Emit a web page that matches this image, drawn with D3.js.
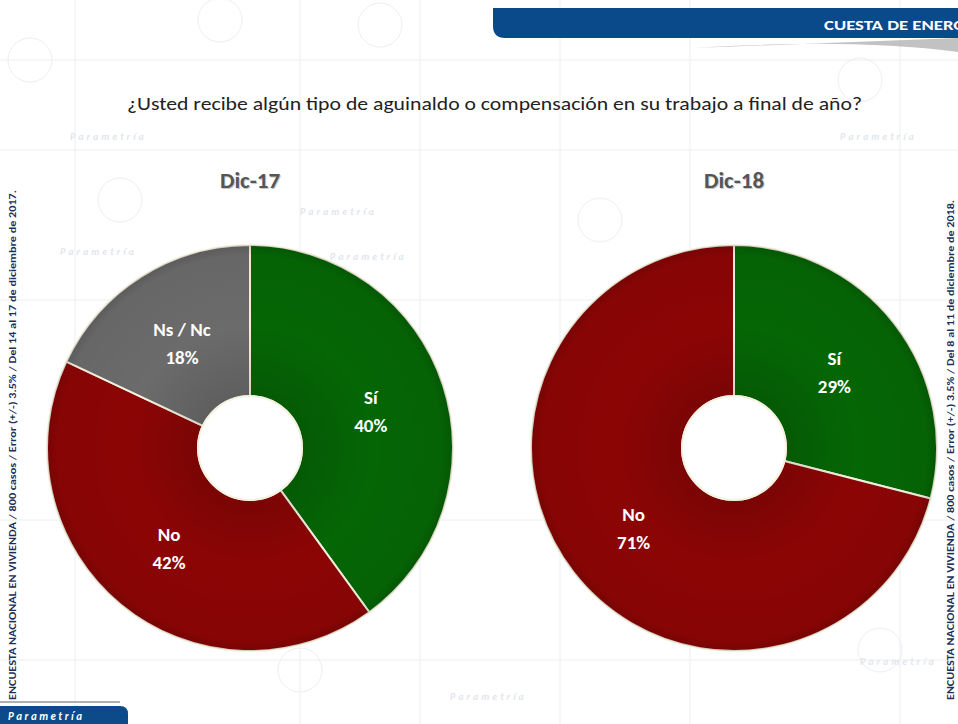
<!DOCTYPE html>
<html>
<head>
<meta charset="utf-8">
<script src="https://cdn.jsdelivr.net/npm/d3@7"></script>
<style>
  body { margin: 0; background: #fff; }
  svg { display: block; }
</style>
</head>
<body>
<div id="chart"></div>
<script>
var W = 958, H = 724;

// data
var years = ["Dic-17", "Dic-18"];
var cats17 = ["Sí", "No", "Ns / Nc"];
var vals17 = [40, 42, 18];
var cats18 = ["Sí", "No"];
var vals18 = [29, 71];
var catColors = {"Sí": "#056605", "No": "#8c0505", "Ns / Nc": "#6b6b6b"};

var title = "¿Usted recibe algún tipo de aguinaldo o compensación en su trabajo a final de año?";
var note17 = "ENCUESTA NACIONAL EN VIVIENDA / 800 casos / Error (+/-) 3.5% / Del 14 al 17 de diciembre de 2017.";
var note18 = "ENCUESTA NACIONAL EN VIVIENDA / 800 casos / Error (+/-) 3.5% / Del 8 al 11 de diciembre de 2018.";

var font = "Carlito, 'Liberation Sans Narrow', 'Open Sans', sans-serif";

var svg = d3.select("#chart").append("svg")
  .attr("width", W)
  .attr("height", H)
  .style("font-family", font);

// faint watermark background
var wm = svg.append("g").attr("stroke", "#eceef2").attr("fill", "none").attr("stroke-width", 1);
[75, 300, 420, 560, 690, 900].forEach(function(x) {
  wm.append("line").attr("x1", x).attr("x2", x).attr("y1", 0).attr("y2", H);
});
[60, 150, 300, 520, 660].forEach(function(y) {
  wm.append("line").attr("x1", 0).attr("x2", W).attr("y1", y).attr("y2", y);
});
[[30, 60], [220, 20], [380, 25], [860, 80], [600, 220], [880, 650], [300, 670], [120, 200]].forEach(function(p) {
  wm.append("circle").attr("cx", p[0]).attr("cy", p[1]).attr("r", 22);
});
[[70, 140], [330, 260], [840, 140], [300, 215], [860, 665], [450, 700], [60, 255]].forEach(function(p) {
  svg.append("text").attr("x", p[0]).attr("y", p[1])
    .attr("fill", "#e2e6ec").attr("font-size", 10).attr("font-style", "italic")
    .attr("font-weight", "bold").attr("letter-spacing", 3)
    .text("Parametría");
});

// top banner
var bx = 493, by = 8, bh = 30, br = 12;
svg.append("path")
  .attr("d", "M" + (bx + 200) + "," + (by + bh + 10) + " Q" + 850 + "," + (by + bh) + " " + W + "," + (by + bh + 14) + " L" + W + "," + (by + bh) + " Z")
  .attr("fill", "#9a9a9a").attr("opacity", 0.6);
svg.append("path")
  .attr("d", "M" + bx + "," + by + " H" + W + " V" + (by + bh) + " H" + (bx + br) +
    " Q" + bx + "," + (by + bh) + " " + bx + "," + (by + bh - br) + " Z")
  .attr("fill", "#0b4a8a");
svg.append("text")
  .attr("x", 824).attr("y", 30)
  .attr("fill", "#fff").attr("font-weight", "bold").attr("font-size", 14)
  .attr("textLength", 142).attr("lengthAdjust", "spacingAndGlyphs")
  .text("CUESTA  DE ENERO");

// title
svg.append("text")
  .attr("x", 127).attr("y", 110)
  .attr("fill", "#222").attr("font-size", 19)
  .attr("textLength", 735).attr("lengthAdjust", "spacingAndGlyphs")
  .text(title);

// side notes
svg.append("text")
  .attr("transform", "translate(16,700) rotate(-90)")
  .attr("fill", "#1a2f5a").attr("font-size", 9).attr("font-weight", "bold")
  .attr("textLength", 510).attr("lengthAdjust", "spacingAndGlyphs")
  .text(note17);
svg.append("text")
  .attr("transform", "translate(954,700) rotate(-90)")
  .attr("fill", "#1a2f5a").attr("font-size", 9).attr("font-weight", "bold")
  .attr("textLength", 500).attr("lengthAdjust", "spacingAndGlyphs")
  .text(note18);

// bottom-left tab
svg.append("line").attr("x1", 0).attr("x2", 120).attr("y1", 702).attr("y2", 702)
  .attr("stroke", "#b0b0b0").attr("stroke-width", 2);
svg.append("path")
  .attr("d", "M0,706 H120 Q128,706 128,714 V" + H + " H0 Z")
  .attr("fill", "#0d4a8a");
svg.append("text")
  .attr("x", 8).attr("y", 720)
  .attr("fill", "#fff").attr("font-size", 11).attr("font-weight", "bold")
  .attr("font-style", "italic").attr("letter-spacing", 2.5)
  .text("Parametría");

// donuts
var defs = svg.append("defs");
var shade = defs.append("radialGradient").attr("id", "shade")
  .attr("gradientUnits", "userSpaceOnUse").attr("cx", 0).attr("cy", 0).attr("r", 203);
shade.append("stop").attr("offset", "0.25").attr("stop-color", "#000").attr("stop-opacity", 0.12);
shade.append("stop").attr("offset", "0.6").attr("stop-color", "#000").attr("stop-opacity", 0);
shade.append("stop").attr("offset", "0.95").attr("stop-color", "#000").attr("stop-opacity", 0.04);
shade.append("stop").attr("offset", "1").attr("stop-color", "#000").attr("stop-opacity", 0.15);

var outerR = 203, innerR = 52;
var centers = d3.scalePoint().domain(years).range([250, 734]);
var cy = 448;

var pie = d3.pie().sort(null).value(function(d) { return d.value; });
var arc = d3.arc().innerRadius(innerR).outerRadius(outerR);
var labelArc = d3.arc().innerRadius(127).outerRadius(127);

var datasets = [
  cats17.map(function(c, i) { return {cat: c, value: vals17[i]}; }),
  cats18.map(function(c, i) { return {cat: c, value: vals18[i]}; })
];

years.forEach(function(yr, k) {
  var cx = centers(yr);

  svg.append("text")
    .attr("x", cx + 1).attr("y", 189)
    .attr("text-anchor", "middle").attr("font-size", 23).attr("font-weight", "bold")
    .attr("fill", "#c8c8c8").text(yr);
  svg.append("text")
    .attr("x", cx).attr("y", 188)
    .attr("text-anchor", "middle").attr("font-size", 23).attr("font-weight", "bold")
    .attr("fill", "#555").text(yr);

  var g = svg.append("g").attr("transform", "translate(" + cx + "," + cy + ")");
  var arcs = pie(datasets[k]);

  g.selectAll("path.slice")
    .data(arcs)
    .enter()
    .append("path")
    .attr("class", "slice")
    .attr("d", arc)
    .attr("fill", function(d) { return catColors[d.data.cat]; })
    .attr("stroke", "#f4f1e0")
    .attr("stroke-width", 2);

  g.append("circle").attr("r", outerR).attr("fill", "url(#shade)").attr("pointer-events", "none");
  g.append("circle").attr("r", innerR).attr("fill", "#fff")
    .attr("stroke", "#f4f1e0").attr("stroke-width", 2);

  var lab = g.selectAll("text.lab")
    .data(arcs)
    .enter()
    .append("text")
    .attr("class", "lab")
    .attr("transform", function(d) { return "translate(" + labelArc.centroid(d) + ")"; })
    .attr("text-anchor", "middle")
    .attr("fill", "#fff").attr("font-size", 19).attr("font-weight", "bold");
  lab.append("tspan").attr("x", 0).attr("dy", "-0.25em").text(function(d) { return d.data.cat; });
  lab.append("tspan").attr("x", 0).attr("dy", "1.45em").text(function(d) { return d.data.value + "%"; });
});
</script>
</body>
</html>
